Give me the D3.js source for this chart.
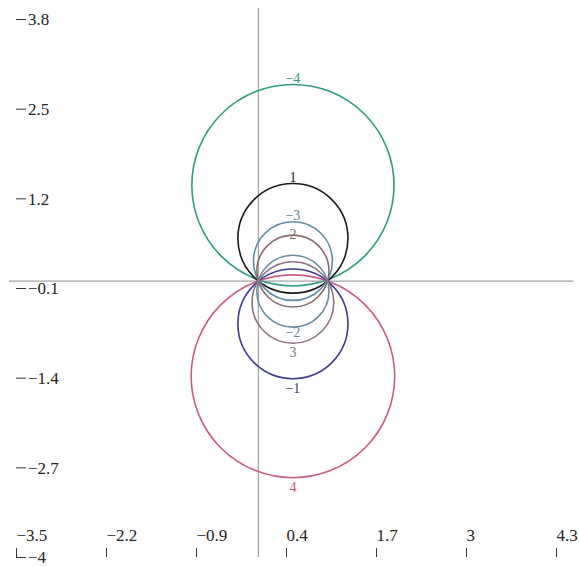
<!DOCTYPE html>
<html>
<head>
<meta charset="utf-8">
<script src="https://cdn.jsdelivr.net/npm/d3@7"></script>
<style>
  body { margin: 0; background: #fff; }
  svg { display: block; }
</style>
</head>
<body>
<div id="chart"></div>
<script>
// valores
const levels   = [-4, 1, -3, 2, 4, -1, 3, -2];
const centersY = [1.39, 0.62, 0.29, 0.146, -1.38, -0.62, -0.31, -0.146];
const radii    = [1.46, 0.795, 0.57, 0.521, 1.47, 0.795, 0.59, 0.521];
const colors   = ["#2e9c85", "#1a1a1a", "#5b8fa6", "#8a6a6a", "#c75a88", "#3d3d8f", "#8e7282", "#6d8ca0"];
const centerX  = 0.5;

const xTicks = [-3.5, -2.2, -0.9, 0.4, 1.7, 3, 4.3];
const yTicks = [3.8, 2.5, 1.2, -0.1, -1.4, -2.7, -4];
const xAxisExtent = [-3.6, 4.55];
const yAxisExtent = [-4, 3.96];

const width = 579, height = 567;
const serif = "'Liberation Serif', 'Times New Roman', 'DejaVu Serif', serif";
const minus = d => String(d).replace("-", "\u2212");

const svg = d3.select("#chart").append("svg")
    .attr("width", width)
    .attr("height", height);

const x = d3.scaleLinear().domain([-3.5, 4.3]).range([16, 556]);
const y = d3.scaleLinear().domain([-4, 3.8]).range([557, 19]);

// eixos que passam pela origem
svg.append("line")
    .attr("x1", x(xAxisExtent[0])).attr("x2", x(xAxisExtent[1]))
    .attr("y1", y(0)).attr("y2", y(0))
    .attr("stroke", "#8c8c8c").attr("stroke-width", 1);
svg.append("line")
    .attr("x1", x(0)).attr("x2", x(0))
    .attr("y1", y(yAxisExtent[0])).attr("y2", y(yAxisExtent[1]))
    .attr("stroke", "#8c8c8c").attr("stroke-width", 1);

// circulos
const circles = levels.map((k, i) => ({ k: k, cy: centersY[i], r: radii[i], color: colors[i] }));

svg.append("g")
    .attr("fill", "none")
    .attr("stroke-width", 1.6)
    .selectAll("ellipse")
    .data(circles)
    .join("ellipse")
    .attr("cx", x(centerX))
    .attr("cy", d => y(d.cy))
    .attr("rx", d => x(d.r) - x(0))
    .attr("ry", d => y(0) - y(d.r))
    .attr("stroke", d => d.color);

// rotulos dos niveis (os dos circulos menores ficam um pouco para dentro)
function labelY(d) {
    if (d.cy > 0) return y(d.cy + d.r) + (d.r < 0.55 ? 4 : -2);
    return y(d.cy - d.r) + (d.r < 0.55 ? 10 : 14);
}

svg.append("g")
    .selectAll("text")
    .data(circles)
    .join("text")
    .attr("x", x(centerX))
    .attr("y", labelY)
    .attr("text-anchor", "middle")
    .style("font-family", serif)
    .style("font-size", "14px")
    .style("fill", d => d3.color(d.color).darker(0.2))
    .text(d => minus(d.k));

// eixo x (marcas em baixo)
const gx = svg.append("g")
    .attr("transform", `translate(0,${y(-4) - 9})`)
    .call(d3.axisBottom(x).tickValues(xTicks).tickSize(9).tickFormat(minus));
gx.select(".domain").remove();
gx.selectAll("line").attr("stroke", "#333");
gx.selectAll("text")
    .attr("y", -7)
    .attr("dy", 0)
    .attr("text-anchor", "start")
    .style("font-family", serif)
    .style("font-size", "17px")
    .style("fill", "#222");

// eixo y (marcas a esquerda)
const gy = svg.append("g")
    .attr("transform", `translate(${x(-3.5) + 10},0)`)
    .call(d3.axisLeft(y).tickValues(yTicks).tickSize(10).tickFormat(minus));
gy.select(".domain").remove();
gy.selectAll("line").attr("stroke", "#333");
gy.selectAll("text")
    .attr("x", 2)
    .attr("dy", "0.35em")
    .attr("text-anchor", "start")
    .style("font-family", serif)
    .style("font-size", "17px")
    .style("fill", "#222");
</script>
</body>
</html>
